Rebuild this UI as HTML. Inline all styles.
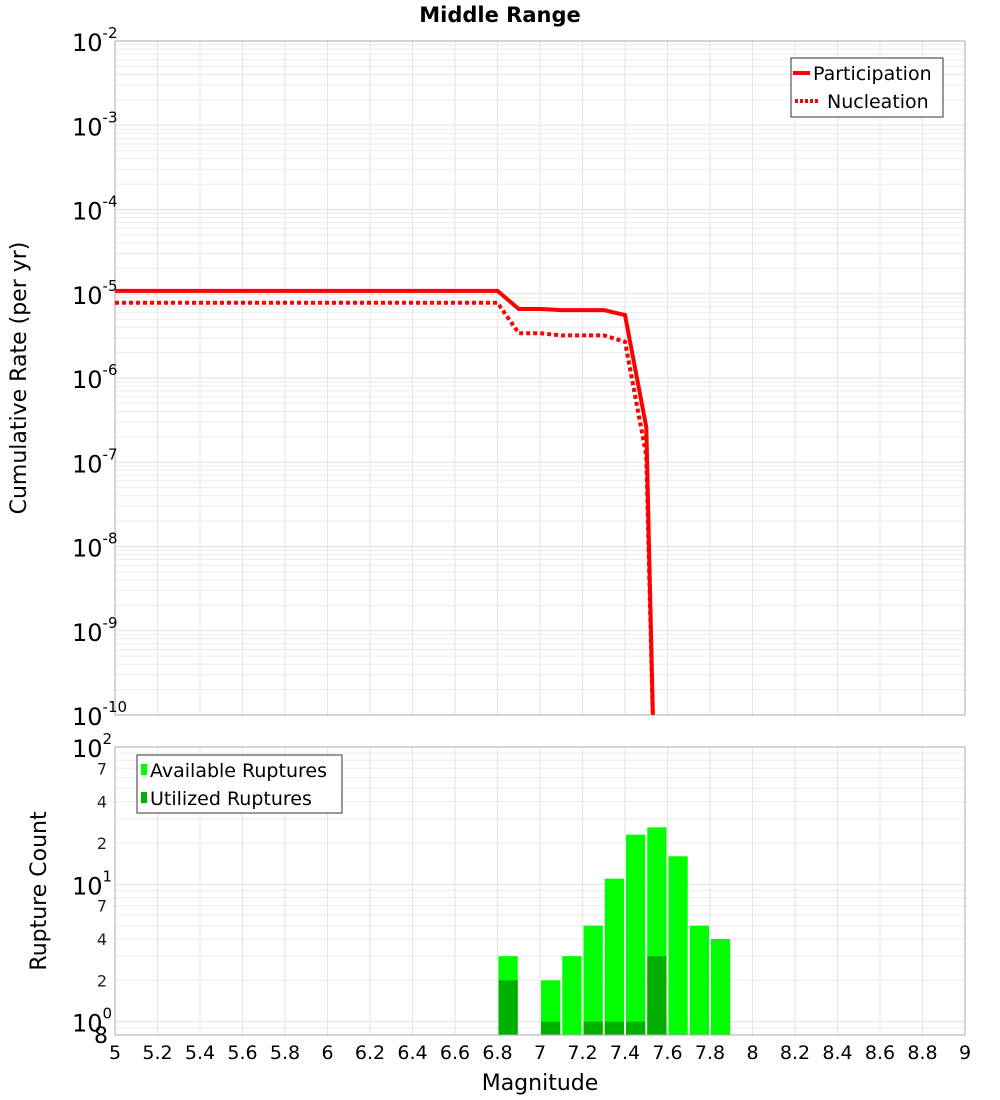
<!DOCTYPE html>
<html><head><meta charset="utf-8">
<style>
html,body{margin:0;padding:0;background:#fff;}
svg{display:block;font-family:"DejaVu Sans","Liberation Sans",sans-serif;}
</style></head>
<body>
<svg id="chart" width="1000" height="1100" viewBox="0 0 1000 1100" xmlns="http://www.w3.org/2000/svg"></svg>
<script>
const magsTop = [5.0, 6.8, 6.9, 7.0, 7.1, 7.2, 7.3, 7.4, 7.5, 7.54];
const participation = [1.08e-5, 1.08e-5, 6.6e-6, 6.6e-6, 6.4e-6, 6.4e-6, 6.4e-6, 5.6e-6, 2.6e-7, 1e-11];
const nucleation = [7.8e-6, 7.8e-6, 3.4e-6, 3.4e-6, 3.2e-6, 3.2e-6, 3.2e-6, 2.7e-6, 1.2e-7, 1e-11];
const binStarts = [6.8, 7.0, 7.1, 7.2, 7.3, 7.4, 7.5, 7.6, 7.7, 7.8];
const available = [3, 2, 3, 5, 11, 23, 26, 16, 5, 4];
const utilized = [2, 1, 0, 1, 1, 1, 3, 0, 0, 0];
const xTicks = [5,5.2,5.4,5.6,5.8,6,6.2,6.4,6.6,6.8,7,7.2,7.4,7.6,7.8,8,8.2,8.4,8.6,8.8,9];
const xTickLabels = ["5","5.2","5.4","5.6","5.8","6","6.2","6.4","6.6","6.8","7","7.2","7.4","7.6","7.8","8","8.2","8.4","8.6","8.8","9"];
const topExps = [-2,-3,-4,-5,-6,-7,-8,-9,-10];

const NS="http://www.w3.org/2000/svg";
const svg=document.getElementById('chart');
function mk(tag,attrs,parent){const e=document.createElementNS(NS,tag);for(const k in attrs)e.setAttribute(k,attrs[k]);(parent||svg).appendChild(e);return e;}

const X0=115,X1=965;
const xs=m=>X0+(m-5)/4*(X1-X0);
const T0=41,T1=715; // 1e-2 .. 1e-10
const yTop=v=>T0+(-2-Math.log10(v))/8*(T1-T0);
const B0=747,B1=1035; // 100 .. 0.8
const lbTop=2, lbBot=Math.log10(0.8);
const yBot=v=>B0+(lbTop-Math.log10(v))/(lbTop-lbBot)*(B1-B0);

// title
let t=mk('text',{x:500,y:22,'text-anchor':'middle','font-size':21,'font-weight':'bold',fill:'#000'});
t.textContent='Middle Range';



// clip paths
const defs=mk('defs',{});
const c1=mk('clipPath',{id:'clipTop'},defs);mk('rect',{x:X0,y:T0,width:X1-X0,height:T1-T0},c1);
const c2=mk('clipPath',{id:'clipBot'},defs);mk('rect',{x:X0,y:B0,width:X1-X0,height:B1-B0},c2);

// TOP PLOT
const gTop=mk('g',{});


mk('rect',{x:X0,y:T0,width:X1-X0,height:T1-T0,fill:'#fff'},gTop);
for(let e=-10;e<-2;e++){for(let k=2;k<=9;k++){const y=yTop(k*Math.pow(10,e));mk('line',{x1:X0,x2:X1,y1:y,y2:y,stroke:'#ebebeb','stroke-width':1},gTop);}}
topExps.forEach(e=>{const y=yTop(Math.pow(10,e));mk('line',{x1:X0,x2:X1,y1:y,y2:y,stroke:'#e2e2e2','stroke-width':1},gTop);});
xTicks.forEach(m=>{const x=xs(m);mk('line',{x1:x,x2:x,y1:T0,y2:T1,stroke:'#e6e6e6','stroke-width':1},gTop);});
mk('rect',{x:X0,y:T0,width:X1-X0,height:T1-T0,fill:'none',stroke:'#aaa','stroke-width':1},gTop);
topExps.forEach(e=>{
  const y=yTop(Math.pow(10,e));
  const tx=mk('text',{x:110,y:y+10,'text-anchor':'end','font-size':24,fill:'#000'},gTop);
  
  
  const a=mk('tspan',{},tx);a.textContent='10';
  const b=mk('tspan',{dy:-13,'font-size':15},tx);b.textContent=String(e);
  tx.setAttribute('x',72);tx.setAttribute('text-anchor','start');
});
const lineFn=(arr)=>magsTop.map((m,i)=>xs(m).toFixed(1)+','+yTop(arr[i]).toFixed(1)).join(' ');
const pl=mk('polyline',{points:lineFn(participation),fill:'none',stroke:'#ff0000','stroke-width':4,'clip-path':'url(#clipTop)','stroke-linejoin':'miter'},gTop);


const nl=mk('polyline',{points:lineFn(nucleation),fill:'none',stroke:'#ff0000','stroke-width':4,'stroke-dasharray':'4 3','clip-path':'url(#clipTop)'},gTop);


let ty=mk('text',{transform:'translate(26,378) rotate(-90)','text-anchor':'middle','font-size':22,fill:'#000'});
ty.textContent='Cumulative Rate (per yr)';


// top legend
const lg=mk('g',{});


mk('rect',{x:791,y:58,width:152,height:59,fill:'#fff',stroke:'#333','stroke-width':1},lg);
mk('line',{x1:793,x2:810,y1:73,y2:73,stroke:'#f00','stroke-width':4},lg);
let l1=mk('text',{x:813,y:80,'font-size':19,fill:'#000'},lg);l1.textContent='Participation';


mk('line',{x1:795,x2:820,y1:101,y2:101,stroke:'#f00','stroke-width':4,'stroke-dasharray':'3 2'},lg);
let l2=mk('text',{x:827,y:108,'font-size':19,fill:'#000'},lg);l2.textContent='Nucleation';



// BOTTOM PLOT
const gB=mk('g',{});


mk('rect',{x:X0,y:B0,width:X1-X0,height:B1-B0,fill:'#fff'},gB);
[0.8,0.9,2,3,4,5,6,7,8,9,20,30,40,50,60,70,80,90].forEach(v=>{const y=yBot(v);mk('line',{x1:X0,x2:X1,y1:y,y2:y,stroke:'#ebebeb','stroke-width':1},gB);});
[1,10,100].forEach(v=>{const y=yBot(v);mk('line',{x1:X0,x2:X1,y1:y,y2:y,stroke:'#e2e2e2','stroke-width':1},gB);});
xTicks.forEach(m=>{const x=xs(m);mk('line',{x1:x,x2:x,y1:B0,y2:B1,stroke:'#e6e6e6','stroke-width':1},gB);});
binStarts.forEach((m,i)=>{
  const xa=xs(m)+1,w=xs(m+0.1)-xs(m)-2;
  const yb=yBot(0.8);
  const r=mk('rect',{x:xa,y:yBot(available[i]),width:w,height:yb-yBot(available[i]),fill:'#00ff00','clip-path':'url(#clipBot)'},gB);
  
  
  if(utilized[i]>0){
    const u=mk('rect',{x:xa,y:yBot(utilized[i]),width:w,height:yb-yBot(utilized[i]),fill:'#00b000','clip-path':'url(#clipBot)'},gB);
    
    
  }
});
mk('rect',{x:X0,y:B0,width:X1-X0,height:B1-B0,fill:'none',stroke:'#aaa','stroke-width':1},gB);
[[100,'2'],[10,'1'],[1,'0']].forEach(([v,e])=>{
  const y=yBot(v);
  const tx=mk('text',{x:72,y:y+10,'font-size':24,fill:'#000'},gB);
  
  
  const a=mk('tspan',{},tx);a.textContent='10';
  const b=mk('tspan',{dy:-13,'font-size':15},tx);b.textContent=e;
});
[[70,'7'],[40,'4'],[20,'2'],[7,'7'],[4,'4'],[2,'2']].forEach(([v,s])=>{
  const y=yBot(v);
  const tx=mk('text',{x:107,y:y+6,'text-anchor':'end','font-size':16,fill:'#222'},gB);tx.textContent=s;
  
  
});
let t8=mk('text',{x:108,y:1043,'text-anchor':'end','font-size':22,fill:'#000'},gB);t8.textContent='8';


xTicks.forEach((m,i)=>{
  const tx=mk('text',{x:xs(m),y:1059,'text-anchor':'middle','font-size':19,fill:'#000'});
  tx.textContent=xTickLabels[i];
  
  
});
let tx2=mk('text',{x:540,y:1090,'text-anchor':'middle','font-size':22,fill:'#000'});tx2.textContent='Magnitude';


let ty2=mk('text',{transform:'translate(46,891) rotate(-90)','text-anchor':'middle','font-size':22,fill:'#000'});ty2.textContent='Rupture Count';


// bottom legend
const lg2=mk('g',{});


mk('rect',{x:137,y:755,width:205,height:58,fill:'#fff',stroke:'#333','stroke-width':1},lg2);
mk('rect',{x:141,y:764,width:6,height:11,fill:'#00ff00'},lg2);
let b1=mk('text',{x:150,y:777,'font-size':19,fill:'#000'},lg2);b1.textContent='Available Ruptures';


mk('rect',{x:141,y:792,width:6,height:11,fill:'#00b000'},lg2);
let b2=mk('text',{x:150,y:805,'font-size':19,fill:'#000'},lg2);b2.textContent='Utilized Ruptures';


</script>
</body></html>
